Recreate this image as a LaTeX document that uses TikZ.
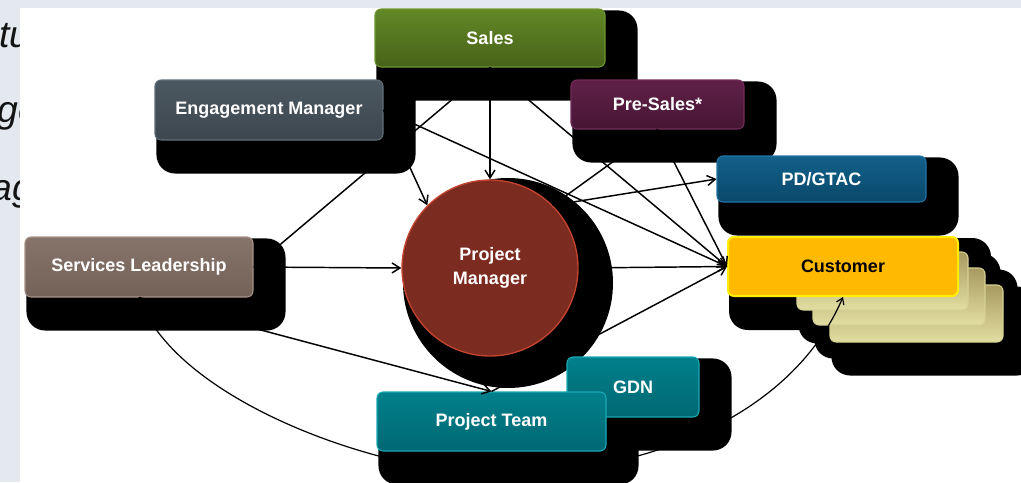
\documentclass[tikz,border=0pt]{standalone}
\usepackage{fontspec}
\setmainfont{Liberation Sans}
\usetikzlibrary{arrows.meta,calc}

\definecolor{paperGrey}{RGB}{228,233,239}
\definecolor{salesTop}{RGB}{98,136,38}
\definecolor{salesBot}{RGB}{72,98,26}
\definecolor{salesRim}{RGB}{110,150,44}
\definecolor{emTop}{RGB}{76,88,97}
\definecolor{emBot}{RGB}{60,71,79}
\definecolor{emRim}{RGB}{96,110,120}
\definecolor{preTop}{RGB}{96,32,72}
\definecolor{preBot}{RGB}{70,22,52}
\definecolor{preRim}{RGB}{116,44,90}
\definecolor{pdTop}{RGB}{18,96,138}
\definecolor{pdBot}{RGB}{10,72,106}
\definecolor{pdRim}{RGB}{34,116,166}
\definecolor{custFill}{RGB}{255,186,0}
\definecolor{custRim}{RGB}{255,238,0}
\definecolor{slTop}{RGB}{134,116,106}
\definecolor{slBot}{RGB}{116,98,88}
\definecolor{slRim}{RGB}{166,146,134}
\definecolor{pmFill}{RGB}{124,43,33}
\definecolor{pmRim}{RGB}{196,68,48}
\definecolor{tealTop}{RGB}{0,128,140}
\definecolor{tealBot}{RGB}{0,104,114}
\definecolor{tealRim}{RGB}{24,170,182}
\definecolor{cardTop}{RGB}{168,154,96}
\definecolor{cardBot}{RGB}{226,222,162}
\definecolor{cardRim}{RGB}{214,208,146}

\pgfdeclarelayer{background}
\pgfsetlayers{background,main}

\tikzset{
  box/.style={rectangle, rounded corners=4.5pt, line width=0.8pt, inner sep=0pt, text=white, font=\bfseries\fontsize{13.5}{16}\selectfont},
  salesbox/.style={box, top color=salesTop, bottom color=salesBot, draw=salesRim},
  embox/.style={box, top color=emTop, bottom color=emBot, draw=emRim},
  prebox/.style={box, top color=preTop, bottom color=preBot, draw=preRim},
  pdbox/.style={box, top color=pdTop, bottom color=pdBot, draw=pdRim},
  custbox/.style={box, fill=custFill, draw=custRim, line width=1.5pt, text=black},
  slbox/.style={box, top color=slTop, bottom color=slBot, draw=slRim},
  tealbox/.style={box, top color=tealTop, bottom color=tealBot, draw=tealRim},
  card/.style={rectangle, rounded corners=4.5pt, line width=0.8pt, inner sep=0pt, draw=cardRim, top color=cardTop, bottom color=cardBot},
  pmball/.style={circle, minimum size=132pt, inner sep=0pt, fill=pmFill, draw=pmRim, line width=1pt, text=white, align=center, font=\bfseries\fontsize{13.5}{17.5}\selectfont},
  dropfill/.style={fill=black, rounded corners=14pt},
  link/.style={line width=1.1pt, -{Straight Barb[length=6pt,width=7.5pt]}},
  thinlink/.style={line width=0.9pt, -{Straight Barb[length=4.5pt,width=6pt]}},
  fragment/.style={inner sep=0pt, anchor=base west, text=black!92, font=\itshape\fontsize{28}{32}\selectfont},
}
\newcommand{\dropshade}[1]{\fill[dropfill] ($(#1.north west)+(2,2)$) rectangle ($(#1.south east)+(32,33)$);}

\begin{document}
\begin{tikzpicture}[x=0.75pt,y=0.75pt,yscale=-1,xscale=1]
\useasboundingbox (0,0) rectangle (1021,482);

%Shape: Rounded Rect
\node[salesbox, minimum width=172.5pt, minimum height=43.5pt] (sales) at (490,38) {Sales};
\node[embox, minimum width=171pt, minimum height=45pt] (em) at (269,110) {Engagement Manager};
\node[prebox, minimum width=129.75pt, minimum height=36.75pt] (pre) at (657.5,104.5) {Pre-Sales*};
\node[pdbox, minimum width=156.75pt, minimum height=34.5pt] (pdg) at (821.5,179) {PD/GTAC};
%Shape: Card Stack
\node[card, minimum width=129.75pt, minimum height=42.75pt] (card3) at (916.5,313.5) {};
\node[card, minimum width=129pt, minimum height=42.75pt] (card2) at (899,296.5) {};
\node[card, minimum width=128.25pt, minimum height=43.5pt] (card1) at (882.5,281) {};
\node[custbox, minimum width=172.5pt, minimum height=44.25pt] (cust) at (843,266.5) {Customer};
\node[slbox, minimum width=171pt, minimum height=45pt] (sl) at (139,267) {Services Leadership};
%Shape: Circle
\node[pmball] (pm) at (490,268) {Project\\Manager};
\node[tealbox, minimum width=99pt, minimum height=45pt] (gdn) at (633,387) {GDN};
\node[tealbox, minimum width=171.75pt, minimum height=44.25pt] (pt) at (491.5,421.5) {Project Team};

\begin{pgfonlayer}{background}
\fill[paperGrey] (0,0) rectangle (1021,482);
% Text Node
\node[fragment] (fragA) at (-1,47) {tu};
\node[fragment] (fragB) at (-3,122) {ge};
\node[fragment] (fragC) at (-9,200) {ag};
\fill[white] (20,8) rectangle (1021,482);
%Shadows
\foreach \n in {sales,em,pre,pdg,card3,card2,card1,cust,sl,gdn,pt} {\dropshade{\n}}
\fill ($(pm.center)+(18,15)$) circle (105);
\end{pgfonlayer}

%Straight Lines
\draw[link] (sales.south) -- (pm);
\draw[link] (sales.south) -- (cust.west);
\draw[link] (sales.south) -- (sl.east);
\draw[link] (em.east) -- (pm.135);
\draw[link] (em.east) -- (cust.west);
\draw[link] (pre.south) -- (pm.45);
\draw[link] (pre.south) -- (cust.west);
\draw[link] (pm.45) -- (pdg.west);
\draw[link] (pm.east) -- (cust.west);
\draw[link] (sl.east) -- (pm.west);
\draw[link] (sl.south) -- (pt.north);
\draw[link] (pt.north) -- (cust.west);
%Curve Lines
\draw[thinlink] (sl.south) .. controls (175,400) and (380,474) .. (500,474) .. controls (640,474) and (790,420) .. (cust.south);

\end{tikzpicture}
\end{document}
